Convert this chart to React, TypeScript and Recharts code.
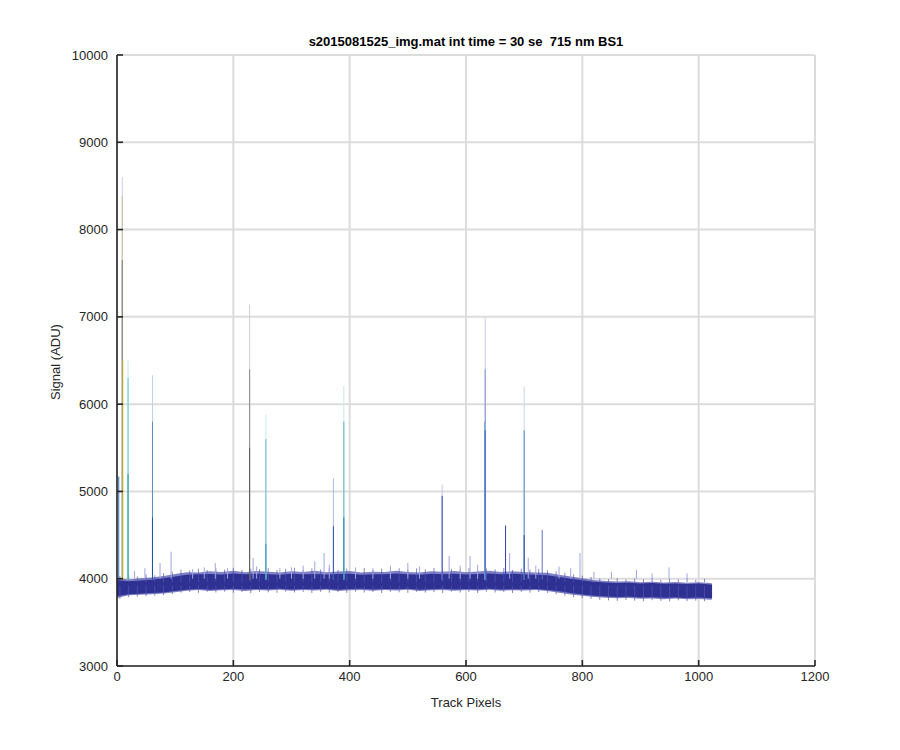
import React from 'react';
import { ComposedChart, Area, Line, XAxis, YAxis, CartesianGrid } from 'recharts';

// noise band sampled every 20 track pixels
const bandX = [
  0, 20, 40, 60, 80, 100, 120, 140, 160, 180, 200, 220, 240, 260, 280, 300, 320, 340,
  360, 380, 400, 420, 440, 460, 480, 500, 520, 540, 560, 580, 600, 620, 640, 660, 680,
  700, 720, 740, 760, 780, 800, 820, 840, 860, 880, 900, 920, 940, 960, 980, 1000, 1020, 1023,
];
const outerHigh = [
  4010, 3990, 4005, 4015, 4030, 4055, 4075, 4070, 4085, 4078, 4090, 4075, 4088, 4080, 4072, 4085, 4078, 4090,
  4074, 4082, 4088, 4070, 4080, 4076, 4090, 4078, 4072, 4086, 4080, 4088, 4075, 4082, 4090, 4076, 4085,
  4078, 4070, 4068, 4045, 4025, 4005, 3985, 3975, 3968, 3972, 3960, 3966, 3958, 3962, 3955, 3960, 3950, 3945,
];
const outerLow = [
  3780, 3810, 3815, 3822, 3830, 3845, 3862, 3870, 3858, 3868, 3872, 3860, 3870, 3865, 3875, 3862, 3870, 3866,
  3874, 3860, 3868, 3872, 3862, 3870, 3865, 3874, 3860, 3868, 3872, 3862, 3870, 3866, 3874, 3862, 3868,
  3864, 3870, 3858, 3840, 3818, 3805, 3790, 3782, 3775, 3778, 3770, 3774, 3766, 3772, 3764, 3768, 3760, 3762,
];
const coreHigh = [
  3985, 3970, 3980, 3988, 4005, 4025, 4045, 4050, 4055, 4048, 4060, 4052, 4056, 4050, 4046, 4058, 4050, 4055,
  4048, 4054, 4058, 4045, 4052, 4050, 4060, 4050, 4046, 4056, 4052, 4058, 4048, 4054, 4060, 4050, 4056,
  4050, 4044, 4040, 4020, 4000, 3982, 3965, 3956, 3950, 3954, 3945, 3950, 3942, 3946, 3940, 3944, 3935, 3932,
];
const coreLow = [
  3800, 3822, 3828, 3835, 3842, 3860, 3875, 3882, 3875, 3880, 3885, 3876, 3882, 3878, 3886, 3876, 3882, 3880,
  3886, 3875, 3882, 3885, 3876, 3882, 3878, 3886, 3875, 3880, 3885, 3876, 3882, 3880, 3886, 3876, 3880,
  3878, 3882, 3872, 3855, 3835, 3820, 3806, 3796, 3790, 3793, 3785, 3789, 3782, 3786, 3780, 3784, 3776, 3778,
];

// ragged edge strands, every 15 px
const fuzzX = [
  5, 20, 35, 50, 65, 80, 95, 110, 125, 140, 155, 170, 185, 200, 215, 230, 245, 260, 275, 290,
  305, 320, 335, 350, 365, 380, 395, 410, 425, 440, 455, 470, 485, 500, 515, 530, 545, 560,
  575, 590, 605, 620, 635, 650, 665, 680, 695, 710, 725, 740, 755, 770, 785, 800, 815, 830,
  845, 860, 875, 890, 905, 920, 935, 950, 965, 980, 995, 1010,
];
const fuzzTop = [
  4030, 4045, 4025, 4050, 4040, 4065, 4080, 4105, 4095, 4115, 4100, 4120, 4105, 4125, 4100, 4115, 4108, 4120, 4098, 4112,
  4125, 4102, 4118, 4106, 4122, 4100, 4115, 4110, 4124, 4100, 4116, 4105, 4120, 4102, 4118, 4108, 4122, 4100,
  4114, 4106, 4120, 4102, 4116, 4108, 4124, 4100, 4115, 4106, 4112, 4098, 4085, 4068, 4050, 4035, 4020, 4005,
  3995, 4008, 3990, 4002, 3994, 4006, 3988, 4000, 3992, 4004, 3986, 3998,
];
const fuzzBottom = [
  3770, 3790, 3795, 3800, 3805, 3812, 3825, 3840, 3848, 3838, 3850, 3842, 3852, 3840, 3848, 3836, 3850, 3844, 3838, 3852,
  3842, 3848, 3836, 3850, 3840, 3846, 3838, 3852, 3842, 3848, 3836, 3850, 3844, 3838, 3850, 3840, 3846, 3836,
  3852, 3842, 3848, 3838, 3850, 3842, 3846, 3836, 3850, 3840, 3846, 3836, 3822, 3805, 3790, 3778, 3768, 3758,
  3752, 3746, 3756, 3748, 3742, 3754, 3746, 3740, 3752, 3744, 3748, 3742,
];

// cosmic ray spikes, tall pale layers first so darker short ones sit on top
const spikeX = [
  9, 9, 9, 10, 3,
  19, 19, 19,
  61, 61, 61,
  228, 228, 228,
  256, 256, 256,
  372, 372,
  390, 390, 390,
  559, 559,
  633, 633, 632, 633,
  668,
  700, 700, 700,
  731,
];
const spikePeak = [
  8600, 8380, 7650, 6500, 5170,
  6500, 6300, 5200,
  6330, 5800, 4700,
  7140, 6400, 5500,
  5880, 5600, 4400,
  5150, 4600,
  6210, 5800, 4700,
  5080, 4950,
  6990, 6400, 5800, 5700,
  4610,
  6200, 5700, 4500,
  4560,
];
const spikeColor = [
  '#cacaf0', '#c8c49a', '#7c7c6c', '#c9b82a', '#2f6fc0',
  '#c4ecec', '#6cc4c8', '#2a9aa0',
  '#bcd2ea', '#5a8cc0', '#2050a0',
  '#cfcfd6', '#8a8a8a', '#5a5a5a',
  '#c4eaf2', '#6ab8d8', '#3a8ab0',
  '#a8bce2', '#3050a8',
  '#c4ecec', '#5ab0d0', '#2a80b0',
  '#c4c4ea', '#3040b0',
  '#cacaee', '#8392c8', '#72a8e0', '#4060c0',
  '#3040a8',
  '#c2d8ec', '#5a88c0', '#3050a0',
  '#6070c0',
];

// small hairs sticking out of the band
const hairX = [
  30, 48, 74, 93, 130, 150, 169, 190, 234, 240, 280, 300, 320, 340, 356, 365, 410, 440,
  470, 500, 520, 571, 590, 607, 620, 675, 707, 720, 760, 780, 796, 820, 850, 893, 920, 949, 980,
];
const hairPeak = [
  4090, 4120, 4180, 4310, 4110, 4130, 4180, 4120, 4237, 4140, 4120, 4130, 4150, 4200, 4294, 4160, 4130, 4120,
  4150, 4180, 4140, 4260, 4150, 4260, 4160, 4294, 4240, 4150, 4140, 4120, 4294, 4080, 4080, 4100, 4060, 4130, 4060,
];

const xTicks = [0, 200, 400, 600, 800, 1000, 1200];
const yTicks = [3000, 4000, 5000, 6000, 7000, 8000, 9000, 10000];

const SPIKE_BASE = 3990;
const FONT = '"Liberation Sans", Arial, Helvetica, sans-serif';
const INK = '#262626';

const rows = bandX.map((x, i) => ({
  x,
  outer: [outerLow[i], outerHigh[i]],
  core: [coreLow[i], coreHigh[i]],
}));

// vertical strokes joined in one series, a null between each breaks the path
const strokes = (xs: number[], from: (i: number) => number, to: number[]) =>
  xs.flatMap((x, i) => [
    { x, v: from(i) },
    { x, v: to[i] },
    { x, v: null },
  ]);

const fuzzUp = strokes(fuzzX, () => 3960, fuzzTop);
const fuzzDown = strokes(fuzzX, () => 3920, fuzzBottom);
const hairData = strokes(hairX, () => 4000, hairPeak);

const spikes = spikeX.map((x, i) => ({
  color: spikeColor[i],
  data: [{ x, v: SPIKE_BASE }, { x, v: spikePeak[i] }],
}));

export default function App() {
  return (
    <div style={{ position: 'absolute', left: 0, top: 0, width: 900, height: 750, background: '#fff' }}>
      <ComposedChart
        width={900}
        height={750}
        data={rows}
        margin={{ top: 55, right: 85, bottom: 54, left: 67 }}
      >
        <CartesianGrid stroke="#dcdcdc" strokeWidth={2} />
        <XAxis
          dataKey="x"
          type="number"
          domain={[0, 1200]}
          ticks={xTicks}
          height={30}
          allowDataOverflow
          axisLine={{ stroke: INK, strokeWidth: 1.6 }}
          tickLine={{ stroke: INK, strokeWidth: 1.6 }}
          tickSize={-6}
          tickMargin={12}
          tick={{ fill: INK, fontSize: 13, fontFamily: FONT }}
        />
        <YAxis
          type="number"
          domain={[3000, 10000]}
          ticks={yTicks}
          width={50}
          allowDataOverflow
          axisLine={{ stroke: INK, strokeWidth: 1.6 }}
          tickLine={{ stroke: INK, strokeWidth: 1.6 }}
          tickSize={-6}
          tickMargin={15}
          tick={{ fill: INK, fontSize: 13, fontFamily: FONT }}
        />
        <Area
          dataKey="outer"
          type="linear"
          stroke="none"
          fill="#4a4dae"
          fillOpacity={0.7}
          isAnimationActive={false}
        />
        <Line
          data={fuzzUp}
          dataKey="v"
          stroke="#5254b4"
          strokeOpacity={0.7}
          strokeWidth={1}
          dot={false}
          activeDot={false}
          connectNulls={false}
          isAnimationActive={false}
        />
        <Line
          data={fuzzDown}
          dataKey="v"
          stroke="#5254b4"
          strokeOpacity={0.7}
          strokeWidth={1}
          dot={false}
          activeDot={false}
          connectNulls={false}
          isAnimationActive={false}
        />
        <Area
          dataKey="core"
          type="linear"
          stroke="none"
          fill="#2e3192"
          fillOpacity={1}
          isAnimationActive={false}
        />
        <Line
          data={hairData}
          dataKey="v"
          stroke="#a4a4e2"
          strokeWidth={1}
          dot={false}
          activeDot={false}
          connectNulls={false}
          isAnimationActive={false}
        />
        {spikes.map((s, i) => (
          <Line
            key={'s' + i}
            data={s.data}
            dataKey="v"
            stroke={s.color}
            strokeWidth={1}
            dot={false}
            activeDot={false}
            isAnimationActive={false}
          />
        ))}
      </ComposedChart>
      <svg
        width={900}
        height={750}
        style={{ position: 'absolute', left: 0, top: 0, pointerEvents: 'none' }}
      >
        <text
          x={466}
          y={46}
          textAnchor="middle"
          fontFamily={FONT}
          fontSize={13}
          fontWeight="bold"
          fill="#000"
          style={{ whiteSpace: 'pre' }}
        >
          s2015081525_img.mat int time = 30 se  715 nm BS1
        </text>
        <text x={466} y={707} textAnchor="middle" fontFamily={FONT} fontSize={13} fill={INK}>
          Track Pixels
        </text>
        <text
          x={60}
          y={362}
          textAnchor="middle"
          fontFamily={FONT}
          fontSize={13}
          fill={INK}
          transform="rotate(-90 60 362)"
        >
          Signal (ADU)
        </text>
      </svg>
    </div>
  );
}
